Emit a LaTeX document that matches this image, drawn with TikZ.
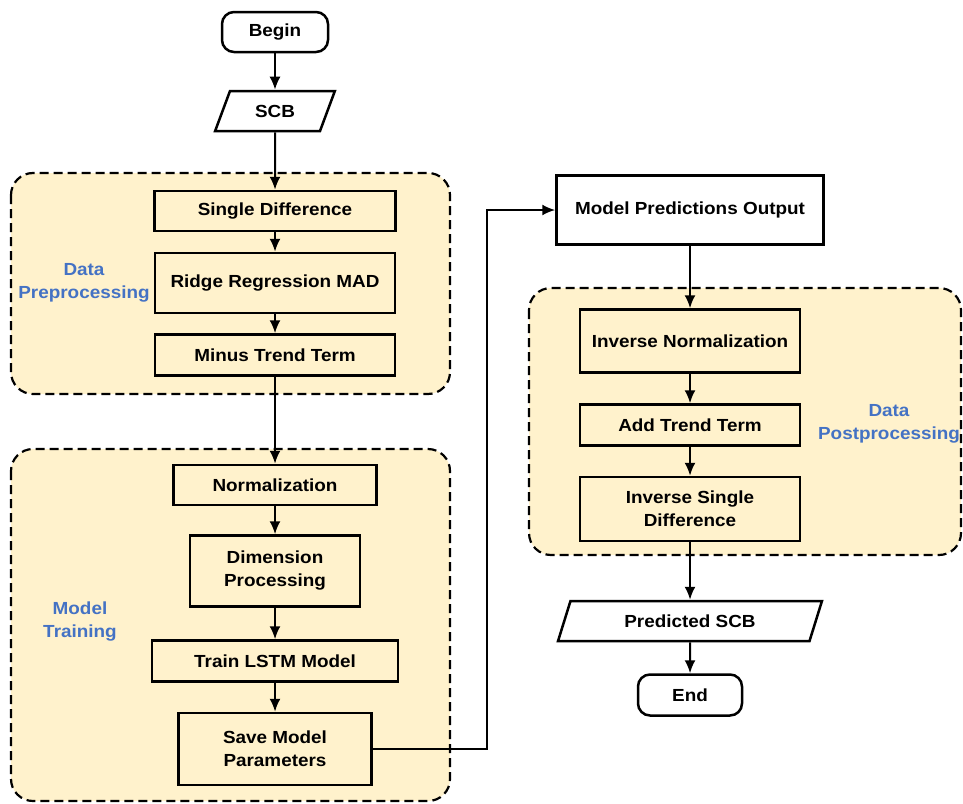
\documentclass[tikz,border=0pt]{standalone}
\usepackage{fontspec}
\setmainfont{Liberation Sans}[FakeStretch=1.08]
\usepackage{tikz}
\usetikzlibrary{
  arrows.meta,%
  shapes.geometric,%
  positioning
}
\definecolor{groupfill}{HTML}{FFF2CC}
\definecolor{grouptext}{HTML}{4472C4}
\tikzset{>={Latex[length=13pt, width=11pt]}}
\tikzset{font=\fontsize{17.5}{23}\selectfont\bfseries}
\tikzset{
  procbox/.style={draw=black, line width=2.5pt, fill=groupfill, align=center, inner sep=0pt},
  outbox/.style={procbox, fill=white},
  terminal/.style={draw=black, line width=2.5pt, fill=white, rounded corners=12pt,
    inner sep=0pt, minimum width=106pt, minimum height=40pt},
  iobox/.style={draw=black, line width=2.5pt, fill=white, shape=trapezium,
    trapezium left angle=62, trapezium right angle=118, trapezium stretches=true,
    inner sep=0pt, minimum height=40pt},
  groupbox/.style={draw=black, line width=2.2pt, fill=groupfill, dash pattern=on 9pt off 5pt,
    rounded corners=22pt},
  grouplabel/.style={text=grouptext, align=center},
  flow/.style={->, line width=2pt}
}

\begin{document}
\begin{tikzpicture}[x=1pt, y=-1pt]
      \useasboundingbox (0, 0) rectangle (963, 803);
      % dashed groups
      \filldraw[groupbox] (11, 173) rectangle (450, 394); % preprocessing
      \filldraw[groupbox] (11, 449) rectangle (450, 801); % training
      \filldraw[groupbox] (529, 288) rectangle (961, 555); % postprocessing
      \node[grouplabel] (lpre) at (84, 283) {Data\\Preprocessing};
      \node[grouplabel] (ltrain) at (80, 622) {Model\\Training};
      \node[grouplabel] (lpost) at (889, 424) {Data\\Postprocessing};
      % left column
      \node[terminal] (begin) at (275, 32) {Begin};
      \node[iobox, minimum width=120pt] (scb) at (275, 111) {SCB};
      \node[procbox, minimum width=241pt, minimum height=40pt] (sdiff) at (275, 211) {Single Difference};
      \node[procbox, minimum width=240pt, minimum height=60pt] (ridge) at (275, 283) {Ridge Regression MAD};
      \node[procbox, minimum width=240pt, minimum height=41pt] (minus) at (275, 355) {Minus Trend Term};
      \node[procbox, minimum width=203pt, minimum height=40pt] (norm) at (275, 485) {Normalization};
      \node[procbox, minimum width=170pt, minimum height=71pt] (dim) at (275, 571) {Dimension\\Processing};
      \node[procbox, minimum width=246pt, minimum height=41pt] (lstm) at (275, 661) {Train LSTM Model};
      \node[procbox, minimum width=193pt, minimum height=72pt] (save) at (275, 749) {Save Model\\Parameters};
      % right column
      \node[outbox, minimum width=267pt, minimum height=69pt] (mpo) at (690, 210) {Model Predictions Output};
      \node[procbox, minimum width=220pt, minimum height=63pt] (inorm) at (690, 341) {Inverse Normalization};
      \node[procbox, minimum width=220pt, minimum height=41pt] (addt) at (690, 425) {Add Trend Term};
      \node[procbox, minimum width=220pt, minimum height=64pt] (isdiff) at (690, 509) {Inverse Single\\Difference};
      \node[iobox, minimum width=264pt] (pscb) at (690, 621) {Predicted SCB};
      \node[terminal, minimum width=104pt, minimum height=41pt] (end) at (690, 695) {End};
      % connectors
      \draw[flow] (begin) -- (scb);
      \draw[flow] (scb) -- (sdiff);
      \draw[flow] (sdiff) -- (ridge);
      \draw[flow] (ridge) -- (minus);
      \draw[flow] (minus) -- (norm);
      \draw[flow] (norm) -- (dim);
      \draw[flow] (dim) -- (lstm);
      \draw[flow] (lstm) -- (save);
      \draw[flow] (save.east) -- ++(114, 0) |- (mpo.west);
      \draw[flow] (mpo) -- (inorm);
      \draw[flow] (inorm) -- (addt);
      \draw[flow] (addt) -- (isdiff);
      \draw[flow] (isdiff) -- (pscb);
      \draw[flow] (pscb) -- (end);
\end{tikzpicture}
\end{document}
